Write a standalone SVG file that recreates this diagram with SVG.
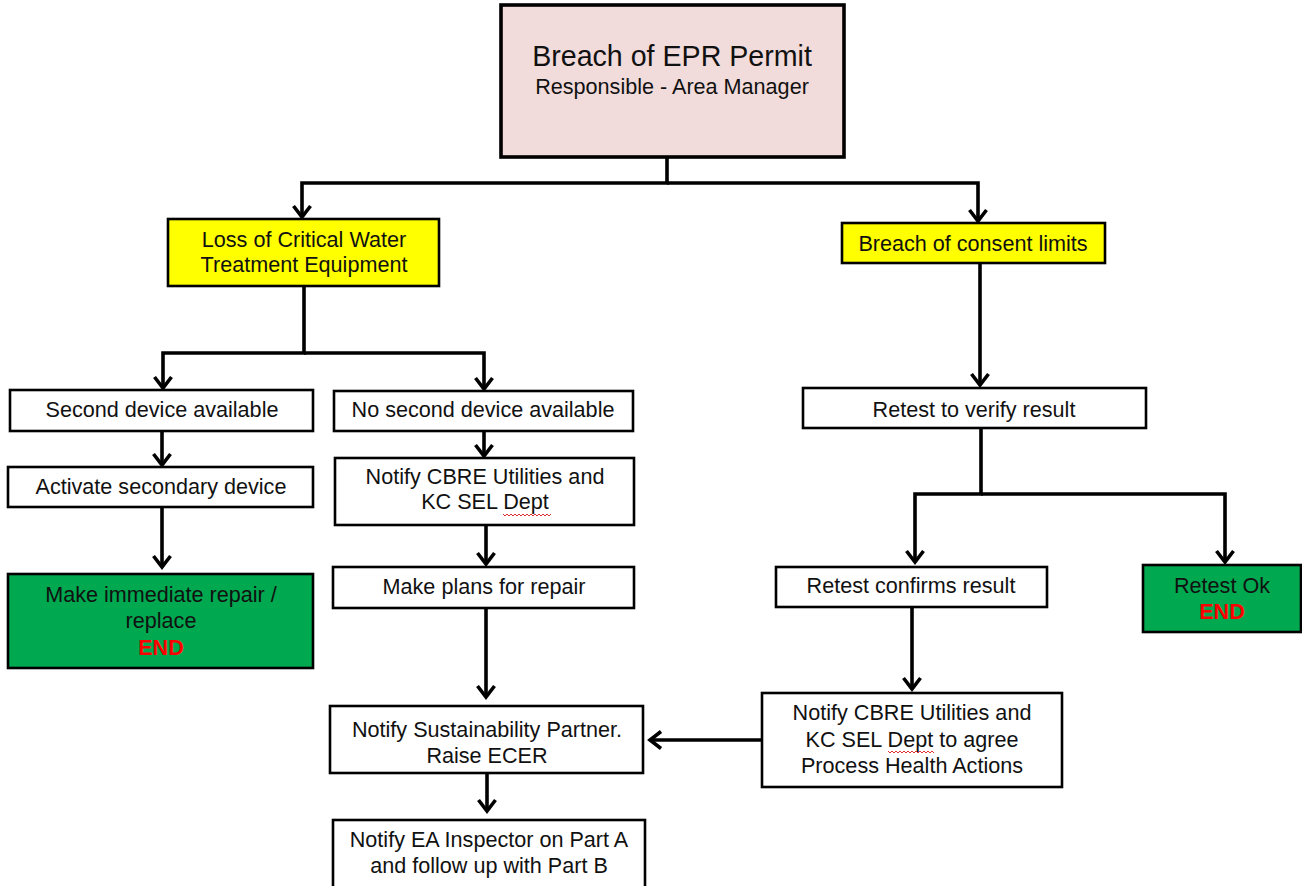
<svg xmlns="http://www.w3.org/2000/svg" width="1302" height="886" viewBox="0 0 1302 886">
  <style>
    .box { stroke: #000; stroke-width: 2.6; }
    .plain { fill: #fff; }
    .warn { fill: #ffff00; }
    .done { fill: #00a84f; }
    .head { fill: #f2dcdb; stroke-width: 3.6; }
    text { font-family: "Liberation Sans", Arial, sans-serif; font-size: 21.6px; fill: #111; text-anchor: middle; }
    .title { font-size: 28.6px; }
    .end { fill: #ff0000; font-weight: bold; }
    .wire { fill: none; stroke: #000; stroke-width: 3.6; marker-end: url(#chev); }
    .spell { fill: none; stroke: #e03030; stroke-width: 1; }
  </style>
  <defs>
    <marker id="chev" markerUnits="userSpaceOnUse" viewBox="-16 -12 20 24" refX="0" refY="0" markerWidth="20" markerHeight="24" orient="auto">
      <path d="M-11,-8.5 L0,0 L-11,8.5" fill="none" stroke="#000" stroke-width="3.6" stroke-linejoin="miter"/>
    </marker>
  </defs>

  <!-- connectors -->
  <g id="connectors">
    <path class="wire" d="M667,157 V183 H302 V217"/>
    <path class="wire" d="M667,183 H978 V221"/>
    <path class="wire" d="M304,286 V353 H163 V388"/>
    <path class="wire" d="M304,353 H484 V389"/>
    <path class="wire" d="M162,431 V465"/>
    <path class="wire" d="M162,507 V567"/>
    <path class="wire" d="M484,431 V456"/>
    <path class="wire" d="M486,525 V564"/>
    <path class="wire" d="M486,608 V697"/>
    <path class="wire" d="M487,773 V811"/>
    <path class="wire" d="M980,263 V385"/>
    <path class="wire" d="M981,428 V494 H915 V562"/>
    <path class="wire" d="M981,494 H1225 V562"/>
    <path class="wire" d="M912,607 V689"/>
    <path class="wire" d="M762,740 H650"/>
  </g>

  <g id="breach-epr">
    <rect class="box head" x="501" y="5" width="343" height="152"/>
    <text class="title" x="672" y="66">Breach of EPR Permit</text>
    <text x="672" y="94">Responsible - Area Manager</text>
  </g>

  <g id="loss-equipment">
    <rect class="box warn" x="168" y="219" width="271" height="67"/>
    <text x="304" y="247">Loss of Critical Water</text>
    <text x="304" y="272">Treatment Equipment</text>
  </g>

  <g id="consent-breach">
    <rect class="box warn" x="842" y="223" width="263" height="40"/>
    <text x="973" y="251">Breach of consent limits</text>
  </g>

  <g id="second-device">
    <rect class="box plain" x="10" y="390" width="303" height="41"/>
    <text x="162" y="417">Second device available</text>
  </g>

  <g id="activate-secondary">
    <rect class="box plain" x="8" y="467" width="305" height="40"/>
    <text x="161" y="494">Activate secondary device</text>
  </g>

  <g id="immediate-repair">
    <rect class="box done" x="8" y="574" width="305" height="94"/>
    <text x="161" y="602">Make immediate repair /</text>
    <text x="161" y="628">replace</text>
    <text class="end" x="161" y="655">END</text>
  </g>

  <g id="no-second-device">
    <rect class="box plain" x="334" y="391" width="299" height="40"/>
    <text x="483" y="417">No second device available</text>
  </g>

  <g id="notify-cbre">
    <rect class="box plain" x="335" y="458" width="299" height="67"/>
    <text x="485" y="484">Notify CBRE Utilities and</text>
    <text x="485" y="509">KC SEL Dept</text>
    <path class="spell" d="M503,514 l2,2 l2,-2 l2,2 l2,-2 l2,2 l2,-2 l2,2 l2,-2 l2,2 l2,-2 l2,2 l2,-2 l2,2 l2,-2 l2,2 l2,-2 l2,2 l2,-2 l2,2 l2,-2 l2,2 l2,-2 l2,2 l2,-2"/>
  </g>

  <g id="repair-plans">
    <rect class="box plain" x="333" y="567" width="301" height="41"/>
    <text x="484" y="594">Make plans for repair</text>
  </g>

  <g id="sustainability-partner">
    <rect class="box plain" x="330" y="706" width="313" height="67"/>
    <text x="487" y="737">Notify Sustainability Partner.</text>
    <text x="487" y="763">Raise ECER</text>
  </g>

  <g id="ea-inspector">
    <rect class="box plain" x="333" y="820" width="312" height="70"/>
    <text x="489" y="847">Notify EA Inspector on Part A</text>
    <text x="489" y="873">and follow up with Part B</text>
  </g>

  <g id="retest-verify">
    <rect class="box plain" x="803" y="388" width="343" height="40"/>
    <text x="974" y="417">Retest to verify result</text>
  </g>

  <g id="retest-confirms">
    <rect class="box plain" x="776" y="567" width="271" height="40"/>
    <text x="911" y="593">Retest confirms result</text>
  </g>

  <g id="retest-ok">
    <rect class="box done" x="1143" y="565" width="158" height="67"/>
    <text x="1222" y="593">Retest Ok</text>
    <text class="end" x="1222" y="619">END</text>
  </g>

  <g id="process-health">
    <rect class="box plain" x="762" y="693" width="300" height="94"/>
    <text x="912" y="720">Notify CBRE Utilities and</text>
    <text x="912" y="747">KC SEL Dept to agree</text>
    <text x="912" y="773">Process Health Actions</text>
    <path class="spell" d="M888,751 l2,2 l2,-2 l2,2 l2,-2 l2,2 l2,-2 l2,2 l2,-2 l2,2 l2,-2 l2,2 l2,-2 l2,2 l2,-2 l2,2 l2,-2 l2,2 l2,-2 l2,2 l2,-2 l2,2 l2,-2 l2,2"/>
  </g>
</svg>
